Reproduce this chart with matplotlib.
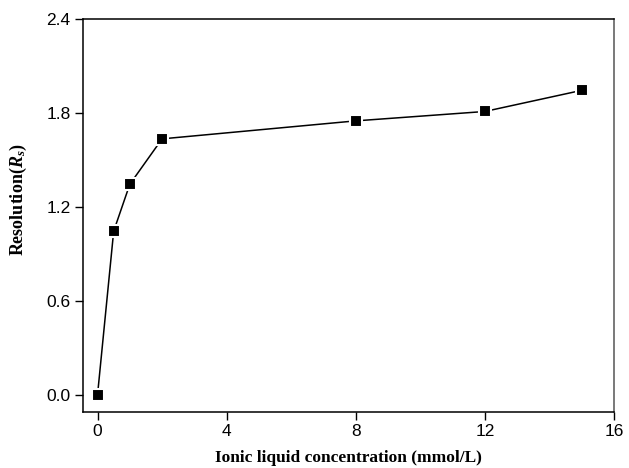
import matplotlib
matplotlib.use("Agg")
import matplotlib.pyplot as plt

plt.rcParams['mathtext.fontset'] = 'custom'
plt.rcParams['mathtext.it'] = 'Liberation Serif:italic:bold'
plt.rcParams['mathtext.rm'] = 'Liberation Serif:bold'

# ionic liquid concentration (mmol/L) vs resolution
conc = [0, 0.5, 1, 2, 8, 12, 15]
resolution = [0.0, 1.045, 1.345, 1.635, 1.75, 1.81, 1.945]
xticks = [0, 4, 8, 12, 16]
yticks = [0.0, 0.6, 1.2, 1.8, 2.4]

fig = plt.figure(figsize=(6.29, 4.68), dpi=100)
ax = fig.add_axes([0.132, 0.120, 0.844, 0.839])

ax.plot(conc, resolution, color='black', lw=1.1, marker='s', markersize=9,
        markerfacecolor='black', markeredgecolor='white', markeredgewidth=1.5)

ax.set_xlim(-0.45, 16)
ax.set_ylim(-0.11, 2.4)
ax.set_xticks(xticks)
ax.set_yticks(yticks)
ax.set_xticklabels([str(t) for t in xticks])
ax.set_yticklabels(["%.1f" % t for t in yticks])
ax.tick_params(direction='out', length=6, width=1, labelsize=12.5, pad=3)
for lab in ax.get_xticklabels() + ax.get_yticklabels():
    lab.set_family('Liberation Sans')

for s in ax.spines.values():
    s.set_linewidth(1.1)
ax.spines['right'].set_color('#555555')

ax.set_xlabel('Ionic liquid concentration (mmol/L)', family='Liberation Serif',
              fontweight='bold', fontsize=12.5, labelpad=8)
ax.set_ylabel(r'Resolution($R_s$)', family='Liberation Serif',
              fontweight='bold', fontsize=13)
ax.yaxis.set_label_coords(-0.102, 0.54)

fig.savefig('out.png', dpi=100)
